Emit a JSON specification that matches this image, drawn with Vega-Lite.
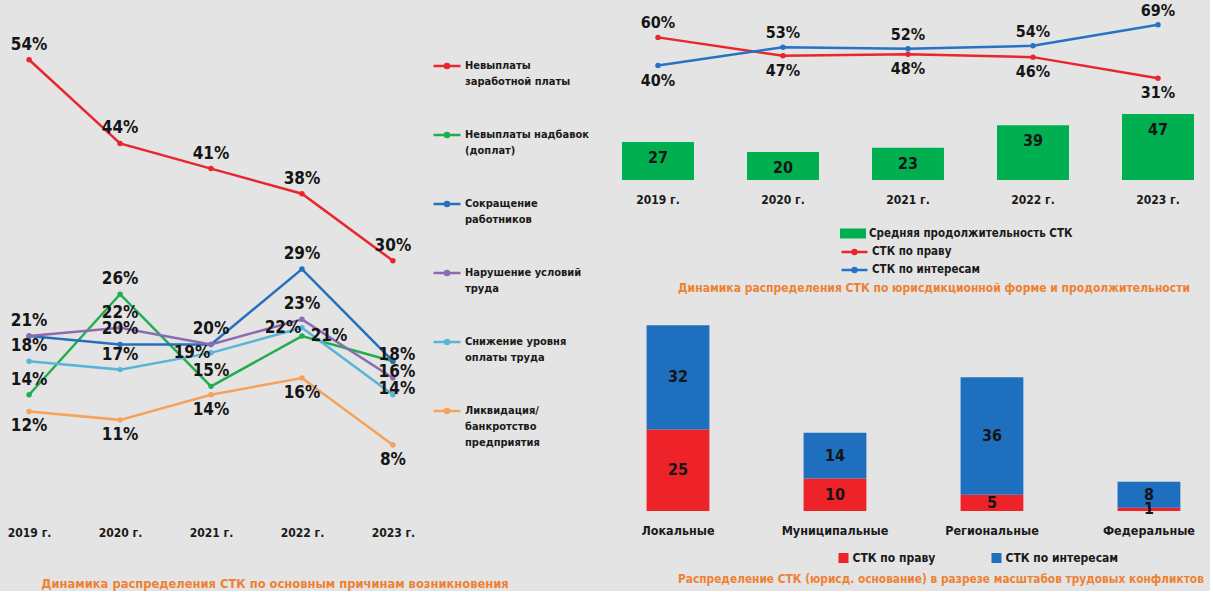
{
  "$schema": "https://vega.github.io/schema/vega-lite/v6.json",
  "background": "#e4e4e4",
  "padding": 0,
  "autosize": {"type": "pad"},
  "config": {
    "font": "DejaVu Sans Condensed, sans-serif",
    "view": {"stroke": null},
    "axis": {"labelFont": "DejaVu Sans Condensed, sans-serif", "labelFontWeight": "bold", "labelColor": "#1a1a1a", "ticks": false, "domain": false, "grid": false, "title": null, "labelAngle": 0},
    "legend": {"labelFont": "DejaVu Sans Condensed, sans-serif", "labelFontWeight": "bold", "labelColor": "#1a1a1a", "title": null},
    "title": {"font": "DejaVu Sans Condensed, sans-serif", "fontWeight": "bold", "color": "#ee8133", "fontSize": 12.8},
    "text": {"font": "DejaVu Sans Condensed, sans-serif", "fontWeight": "bold", "color": "#151515"}
  },
  "datasets": {
    "left": [
      {"year": "2019 г.", "series": "Невыплаты заработной платы", "v": 54},
      {"year": "2020 г.", "series": "Невыплаты заработной платы", "v": 44},
      {"year": "2021 г.", "series": "Невыплаты заработной платы", "v": 41},
      {"year": "2022 г.", "series": "Невыплаты заработной платы", "v": 38},
      {"year": "2023 г.", "series": "Невыплаты заработной платы", "v": 30},
      {"year": "2019 г.", "series": "Невыплаты надбавок (доплат)", "v": 14},
      {"year": "2020 г.", "series": "Невыплаты надбавок (доплат)", "v": 26},
      {"year": "2021 г.", "series": "Невыплаты надбавок (доплат)", "v": 15},
      {"year": "2022 г.", "series": "Невыплаты надбавок (доплат)", "v": 21},
      {"year": "2023 г.", "series": "Невыплаты надбавок (доплат)", "v": 18},
      {"year": "2019 г.", "series": "Сокращение работников", "v": 21},
      {"year": "2020 г.", "series": "Сокращение работников", "v": 20},
      {"year": "2021 г.", "series": "Сокращение работников", "v": 20},
      {"year": "2022 г.", "series": "Сокращение работников", "v": 29},
      {"year": "2023 г.", "series": "Сокращение работников", "v": 18},
      {"year": "2019 г.", "series": "Нарушение условий труда", "v": 21},
      {"year": "2020 г.", "series": "Нарушение условий труда", "v": 22},
      {"year": "2021 г.", "series": "Нарушение условий труда", "v": 20},
      {"year": "2022 г.", "series": "Нарушение условий труда", "v": 23},
      {"year": "2023 г.", "series": "Нарушение условий труда", "v": 16},
      {"year": "2019 г.", "series": "Снижение уровня оплаты труда", "v": 18},
      {"year": "2020 г.", "series": "Снижение уровня оплаты труда", "v": 17},
      {"year": "2021 г.", "series": "Снижение уровня оплаты труда", "v": 19},
      {"year": "2022 г.", "series": "Снижение уровня оплаты труда", "v": 22},
      {"year": "2023 г.", "series": "Снижение уровня оплаты труда", "v": 14},
      {"year": "2019 г.", "series": "Ликвидация/ банкротство предприятия", "v": 12},
      {"year": "2020 г.", "series": "Ликвидация/ банкротство предприятия", "v": 11},
      {"year": "2021 г.", "series": "Ликвидация/ банкротство предприятия", "v": 14},
      {"year": "2022 г.", "series": "Ликвидация/ банкротство предприятия", "v": 16},
      {"year": "2023 г.", "series": "Ликвидация/ банкротство предприятия", "v": 8}
    ],
    "dur": [
      {"year": "2019 г.", "d": 27},
      {"year": "2020 г.", "d": 20},
      {"year": "2021 г.", "d": 23},
      {"year": "2022 г.", "d": 39},
      {"year": "2023 г.", "d": 47}
    ],
    "tr": [
      {"year": "2019 г.", "series": "СТК по праву", "v": 60},
      {"year": "2020 г.", "series": "СТК по праву", "v": 47},
      {"year": "2021 г.", "series": "СТК по праву", "v": 48},
      {"year": "2022 г.", "series": "СТК по праву", "v": 46},
      {"year": "2023 г.", "series": "СТК по праву", "v": 31},
      {"year": "2019 г.", "series": "СТК по интересам", "v": 40},
      {"year": "2020 г.", "series": "СТК по интересам", "v": 53},
      {"year": "2021 г.", "series": "СТК по интересам", "v": 52},
      {"year": "2022 г.", "series": "СТК по интересам", "v": 54},
      {"year": "2023 г.", "series": "СТК по интересам", "v": 69}
    ],
    "scale": [
      {"scale": "Локальные", "type": "СТК по праву", "v": 25},
      {"scale": "Локальные", "type": "СТК по интересам", "v": 32},
      {"scale": "Муниципальные", "type": "СТК по праву", "v": 10},
      {"scale": "Муниципальные", "type": "СТК по интересам", "v": 14},
      {"scale": "Региональные", "type": "СТК по праву", "v": 5},
      {"scale": "Региональные", "type": "СТК по интересам", "v": 36},
      {"scale": "Федеральные", "type": "СТК по праву", "v": 1},
      {"scale": "Федеральные", "type": "СТК по интересам", "v": 8}
    ]
  },
  "bounds": "flush",
  "spacing": 187.5,
  "resolve": {"scale": {"color": "independent", "fill": "independent", "stroke": "independent"}, "legend": {"color": "independent", "fill": "independent", "stroke": "independent"}},
  "hconcat": [
    {
      "width": 422,
      "height": 512,
      "data": {"name": "left"},
      "transform": [{"calculate": "datum.v + '%'", "as": "lbl"}],
      "title": {"text": "Динамика распределения СТК по основным причинам возникновения", "orient": "bottom", "anchor": "middle", "dx": 64, "offset": 40},
      "encoding": {
        "x": {"field": "year", "type": "ordinal", "scale": {"type": "point", "padding": 0.32}, "axis": {"labelFontSize": 12, "labelPadding": 15}},
        "y": {"field": "v", "type": "quantitative", "scale": {"domain": [0, 61.13], "nice": false, "zero": false}, "axis": null}
      },
      "layer": [
        {
          "mark": {"type": "line", "strokeWidth": 2.5},
          "encoding": {
            "color": {
              "field": "series", "type": "nominal",
              "scale": {
                "domain": ["Невыплаты заработной платы", "Невыплаты надбавок (доплат)", "Сокращение работников", "Нарушение условий труда", "Снижение уровня оплаты труда", "Ликвидация/ банкротство предприятия"],
                "range": ["#e8262c", "#22ad4e", "#2470bd", "#8c6bb1", "#5ab4d6", "#f5a25b"]
              },
              "legend": {
                "orient": "none", "legendX": 432, "legendY": 51, "direction": "vertical",
                "symbolType": "M-1,0H1M0.15,0A0.15,0.15 0 1,1 -0.15,0A0.15,0.15 0 1,1 0.15,0", "symbolSize": 729, "symbolStrokeWidth": 2.5,
                "labelFontSize": 11, "labelOffset": 3, "rowPadding": 33, "labelLimit": 200,
                "labelExpr": "datum.label == 'Невыплаты заработной платы' ? ['Невыплаты', 'заработной платы'] : datum.label == 'Невыплаты надбавок (доплат)' ? ['Невыплаты надбавок', '(доплат)'] : datum.label == 'Сокращение работников' ? ['Сокращение', 'работников'] : datum.label == 'Нарушение условий труда' ? ['Нарушение условий', 'труда'] : datum.label == 'Снижение уровня оплаты труда' ? ['Снижение уровня', 'оплаты труда'] : ['Ликвидация/', 'банкротство', 'предприятия']",
                "encode": {"labels": {"update": {"lineHeight": {"value": 16}}}}
              }
            }
          }
        },
        {
          "mark": {"type": "circle", "size": 30, "opacity": 1},
          "encoding": {"color": {"field": "series", "type": "nominal"}}
        },
        {
          "transform": [{"filter": "datum.series == 'Невыплаты заработной платы' || (datum.year != '2023 г.' && datum.series != 'Ликвидация/ банкротство предприятия' && !(datum.series == 'Нарушение условий труда' && (datum.year == '2019 г.' || datum.year == '2021 г.')) && !(datum.series == 'Невыплаты надбавок (доплат)' && datum.year == '2022 г.') && !(datum.series == 'Снижение уровня оплаты труда' && (datum.year == '2021 г.' || datum.year == '2022 г.')))"}],
          "mark": {"type": "text", "fontSize": 17, "dy": -15},
          "encoding": {"text": {"field": "lbl"}}
        },
        {
          "transform": [{"filter": "datum.series == 'Ликвидация/ банкротство предприятия'"}],
          "mark": {"type": "text", "fontSize": 17, "dy": 15},
          "encoding": {"text": {"field": "lbl"}}
        },
        {
          "transform": [{"filter": "datum.series == 'Невыплаты надбавок (доплат)' && datum.year == '2022 г.'"}],
          "mark": {"type": "text", "fontSize": 17, "dx": 27},
          "encoding": {"text": {"field": "lbl"}}
        },
        {
          "transform": [{"filter": "datum.series == 'Снижение уровня оплаты труда' && (datum.year == '2021 г.' || datum.year == '2022 г.')"}],
          "mark": {"type": "text", "fontSize": 17, "dx": -19},
          "encoding": {"text": {"field": "lbl"}}
        },
        {
          "transform": [{"filter": "datum.year == '2023 г.' && (datum.series == 'Сокращение работников' || datum.series == 'Нарушение условий труда' || datum.series == 'Снижение уровня оплаты труда')"}],
          "mark": {"type": "text", "fontSize": 17, "dx": 4, "dy": -6},
          "encoding": {"text": {"field": "lbl"}}
        }
      ]
    },
    {
      "spacing": 17,
      "resolve": {"scale": {"color": "independent", "fill": "independent", "stroke": "independent"}, "legend": {"color": "independent", "fill": "independent", "stroke": "independent"}},
      "vconcat": [
        {
          "width": 600,
          "height": 180,
          "title": {"text": "Динамика распределения СТК по юрисдикционной форме и продолжительности", "orient": "bottom", "anchor": "start", "dx": 68.5, "offset": 6, "fontSize": 12},
          "encoding": {
            "x": {"field": "year", "type": "ordinal", "scale": {"type": "band", "paddingInner": 0.424, "paddingOuter": 0.112, "align": 0.446}, "axis": {"labelFontSize": 12, "labelPadding": 14}}
          },
          "layer": [
            {
              "data": {"name": "dur"},
              "mark": {"type": "bar"},
              "encoding": {
                "y": {"field": "d", "type": "quantitative", "scale": {"domain": [0, 128.2], "nice": false}, "axis": null},
                "fill": {
                  "datum": "Средняя продолжительность СТК",
                  "type": "nominal",
                  "scale": {"domain": ["Средняя продолжительность СТК"], "range": ["#00b050"]},
                  "legend": {
                    "orient": "none", "legendX": 237, "legendY": 227, "direction": "vertical",
                    "symbolType": "M-2,-0.77H2V0.77H-2Z", "symbolSize": 169, "symbolStrokeWidth": 0,
                    "labelFontSize": 11.5, "labelOffset": 9.5, "labelLimit": 300
                  }
                }
              }
            },
            {
              "data": {"name": "dur"},
              "mark": {"type": "text", "fontSize": 16, "dy": 16},
              "encoding": {
                "y": {"field": "d", "type": "quantitative", "scale": {"domain": [0, 128.2], "nice": false}, "axis": null},
                "text": {"field": "d"}
              }
            },
            {
              "data": {"name": "tr"},
              "mark": {"type": "line", "strokeWidth": 2.5},
              "encoding": {
                "y": {"field": "v", "type": "quantitative", "scale": {"domain": [-41.1, 86.5], "nice": false, "zero": false}, "axis": null},
                "stroke": {
                  "field": "series", "type": "nominal",
                  "scale": {"domain": ["СТК по праву", "СТК по интересам"], "range": ["#e8262c", "#2672c4"]},
                  "legend": {
                    "orient": "none", "legendX": 237, "legendY": 244, "direction": "vertical",
                    "symbolType": "M-2,0H2M0.3,0A0.3,0.3 0 1,1 -0.3,0A0.3,0.3 0 1,1 0.3,0", "symbolSize": 169, "symbolStrokeWidth": 2.5,
                    "labelFontSize": 11.5, "labelOffset": 9.5, "rowPadding": 3, "labelLimit": 300
                  }
                }
              }
            },
            {
              "data": {"name": "tr"},
              "mark": {"type": "circle", "size": 30, "opacity": 1},
              "encoding": {
                "y": {"field": "v", "type": "quantitative", "scale": {"domain": [-41.1, 86.5], "nice": false, "zero": false}, "axis": null},
                "color": {"field": "series", "type": "nominal", "scale": {"domain": ["СТК по праву", "СТК по интересам"], "range": ["#e8262c", "#2672c4"]}, "legend": null}
              }
            },
            {
              "data": {"name": "tr"},
              "transform": [
                {"filter": "(datum.series == 'СТК по праву' && datum.year == '2019 г.') || (datum.series == 'СТК по интересам' && datum.year != '2019 г.')"},
                {"calculate": "datum.v + '%'", "as": "lbl"}
              ],
              "mark": {"type": "text", "fontSize": 16, "dy": -14},
              "encoding": {
                "y": {"field": "v", "type": "quantitative", "scale": {"domain": [-41.1, 86.5], "nice": false, "zero": false}, "axis": null},
                "text": {"field": "lbl"}
              }
            },
            {
              "data": {"name": "tr"},
              "transform": [
                {"filter": "!((datum.series == 'СТК по праву' && datum.year == '2019 г.') || (datum.series == 'СТК по интересам' && datum.year != '2019 г.'))"},
                {"calculate": "datum.v + '%'", "as": "lbl"}
              ],
              "mark": {"type": "text", "fontSize": 16, "dy": 15},
              "encoding": {
                "y": {"field": "v", "type": "quantitative", "scale": {"domain": [-41.1, 86.5], "nice": false, "zero": false}, "axis": null},
                "text": {"field": "lbl"}
              }
            }
          ],
          "resolve": {"scale": {"y": "independent"}}
        },
        {
          "width": 600,
          "height": 200,
          "data": {"name": "scale"},
          "transform": [
            {"stack": "v", "groupby": ["scale"], "sort": [{"field": "type", "order": "descending"}], "as": ["y0", "y1"]},
            {"calculate": "(datum.y0 + datum.y1) / 2", "as": "mid"}
          ],
          "title": {"text": "Распределение СТК (юрисд. основание) в разрезе масштабов трудовых конфликтов", "orient": "bottom", "anchor": "start", "dx": 68.5, "offset": 10, "fontSize": 11.8},
          "encoding": {
            "x": {"field": "scale", "type": "ordinal", "sort": ["Локальные", "Муниципальные", "Региональные", "Федеральные"], "scale": {"type": "band", "paddingInner": 0.6, "paddingOuter": 0.211, "align": 0.56}, "axis": {"labelFontSize": 12.5, "labelPadding": 13}}
          },
          "layer": [
            {
              "mark": {"type": "bar"},
              "encoding": {
                "y": {"field": "y1", "type": "quantitative", "scale": {"domain": [0, 61.35], "nice": false}, "axis": null},
                "y2": {"field": "y0"},
                "color": {
                  "field": "type", "type": "nominal",
                  "scale": {"domain": ["СТК по праву", "СТК по интересам"], "range": ["#ee2229", "#1f6fbf"]},
                  "legend": {"orient": "none", "legendX": 228, "legendY": 241, "direction": "horizontal", "symbolType": "square", "symbolSize": 100, "symbolStrokeWidth": 0, "labelFontSize": 12, "labelOffset": 3, "columnPadding": 55}
                }
              }
            },
            {
              "mark": {"type": "text", "fontSize": 16},
              "encoding": {
                "y": {"field": "mid", "type": "quantitative", "scale": {"domain": [0, 61.35], "nice": false}, "axis": null},
                "text": {"field": "v"}
              }
            }
          ]
        }
      ]
    }
  ]
}
